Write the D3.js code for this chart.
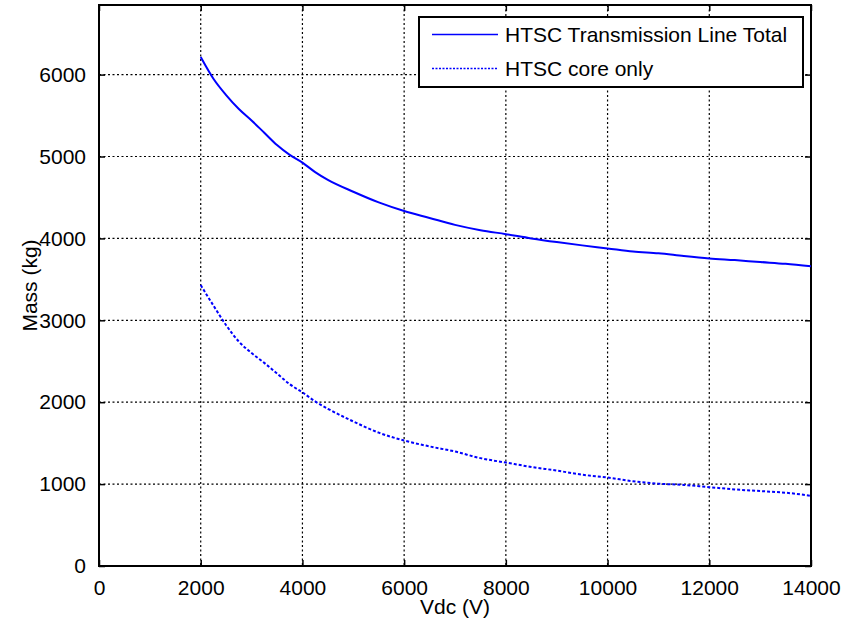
<!DOCTYPE html>
<html>
<head>
<meta charset="utf-8">
<script src="https://cdn.jsdelivr.net/npm/d3@7"></script>
<style>
  body { margin: 0; background: #fff; }
  svg text { font-family: "Liberation Sans", Arial, sans-serif; fill: #000; }
</style>
</head>
<body>
<svg width="844" height="627"></svg>
<script>
// Data
const vdc = [2000, 2250, 2500, 2750, 3000, 3250, 3500, 3750, 4000, 4250, 4500, 5000, 5500, 6000, 6500, 7000,
  7500, 8000, 8500, 9000, 9500, 10000, 10500, 11000, 11500, 12000, 12500, 13000, 13500, 14000];
const massTotal = [6215, 5950, 5750, 5580, 5440, 5290, 5140, 5020, 4925, 4810, 4715, 4570, 4440, 4335, 4250, 4165,
  4100, 4052, 4000, 3955, 3915, 3878, 3840, 3818, 3785, 3756, 3735, 3712, 3690, 3660];
const massCore = [3430, 3180, 2940, 2740, 2600, 2480, 2350, 2220, 2120, 2010, 1920, 1765, 1628, 1532, 1460, 1398,
  1317, 1263, 1210, 1165, 1115, 1081, 1035, 1005, 990, 963, 935, 915, 895, 857];
const xTicks = [0, 2000, 4000, 6000, 8000, 10000, 12000, 14000];
const yTicks = [0, 1000, 2000, 3000, 4000, 5000, 6000];
const seriesNames = ["HTSC Transmission Line Total", "HTSC core only"];

const svg = d3.select("svg");
const margin = {left: 99, right: 33, top: 5, bottom: 61};
const width = 844 - margin.left - margin.right,
    height = 627 - margin.top - margin.bottom;

const x = d3.scaleLinear().domain([0, 14000]).range([0, width]);
const y = d3.scaleLinear().domain([0, 6850]).range([height, 0]);

const g = svg.append("g").attr("transform", `translate(${margin.left},${margin.top})`);

// grid
g.append("g").selectAll("line").data(xTicks.slice(1, -1)).join("line")
    .attr("x1", d => x(d)).attr("x2", d => x(d)).attr("y1", 0).attr("y2", height)
    .attr("stroke", "#000").attr("stroke-width", 1.2).attr("stroke-dasharray", "2,2.5");
g.append("g").selectAll("line").data(yTicks.slice(1)).join("line")
    .attr("x1", 0).attr("x2", width).attr("y1", d => y(d)).attr("y2", d => y(d))
    .attr("stroke", "#000").attr("stroke-width", 1.2).attr("stroke-dasharray", "2,2.5");

// axes (ticks inward on all sides)
const fs = "21px";
const fmt = d3.format("d");
const xAx = g.append("g").attr("transform", `translate(0,${height})`)
    .call(d3.axisBottom(x).tickValues(xTicks).tickFormat(fmt).tickSizeInner(-6).tickSizeOuter(0).tickPadding(12));
const yAx = g.append("g")
    .call(d3.axisLeft(y).tickValues(yTicks).tickFormat(fmt).tickSizeInner(-6).tickSizeOuter(0).tickPadding(13));
g.append("g").call(d3.axisTop(x).tickValues(xTicks).tickSizeInner(-6).tickSizeOuter(0).tickFormat(""));
g.append("g").attr("transform", `translate(${width},0)`)
    .call(d3.axisRight(y).tickValues(yTicks).tickSizeInner(-6).tickSizeOuter(0).tickFormat(""));
g.selectAll(".domain").remove();
g.selectAll(".tick line").attr("stroke", "#000").attr("stroke-width", 1.5);
xAx.selectAll("text").style("font-size", fs).attr("dy", "0.8em");
yAx.selectAll("text").style("font-size", fs);

// box
g.append("rect").attr("width", width).attr("height", height)
    .attr("fill", "none").attr("stroke", "#000").attr("stroke-width", 2);

// lines
const line = d3.line().x((d, i) => x(vdc[i])).y(d => y(d)).curve(d3.curveMonotoneX);
g.append("path").datum(massTotal).attr("d", line)
    .attr("fill", "none").attr("stroke", "#0000ff").attr("stroke-width", 2);
g.append("path").datum(massCore).attr("d", line)
    .attr("fill", "none").attr("stroke", "#0000ff").attr("stroke-width", 2)
    .attr("stroke-dasharray", "3,2");

// axis labels
svg.append("text").attr("x", margin.left + x(7000)).attr("y", 614)
    .attr("text-anchor", "middle").style("font-size", fs).text("Vdc (V)");
svg.append("text").attr("transform", `translate(37,${margin.top + height / 2}) rotate(-90)`)
    .attr("text-anchor", "middle").style("font-size", fs).text("Mass (kg)");

// legend
const lg = svg.append("g").attr("transform", "translate(419,17)");
lg.append("rect").attr("width", 384).attr("height", 70)
    .attr("fill", "#fff").attr("stroke", "#000").attr("stroke-width", 2);
seriesNames.forEach((name, i) => {
  const yy = 17.5 + i * 34;
  lg.append("line").attr("x1", 13).attr("x2", 79).attr("y1", yy).attr("y2", yy)
      .attr("stroke", "#0000ff").attr("stroke-width", 1.5)
      .attr("stroke-dasharray", i ? "2,1.5" : null);
  lg.append("text").attr("x", 86).attr("y", yy).attr("dy", "0.35em")
      .style("font-size", fs).text(name);
});
</script>
</body>
</html>
